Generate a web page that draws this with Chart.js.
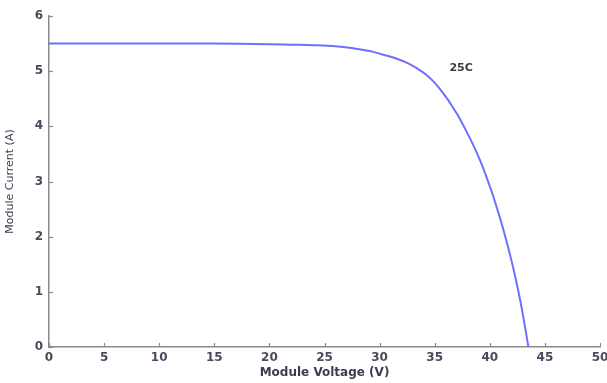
<!DOCTYPE html>
<html>
<head>
<meta charset="utf-8">
<script src="https://cdn.jsdelivr.net/npm/chart.js@4/dist/chart.umd.min.js"></script>
<style>
html,body{margin:0;padding:0;background:#fff;}
#wrap{width:607px;height:383px;position:relative;}
</style>
</head>
<body>
<div id="wrap"><canvas id="c" width="607" height="383"></canvas></div>
<script>
// Data
const voltage = [0, 5, 10, 15, 20, 22, 24, 26, 28, 29.4, 30.5, 31.5, 32.5, 33.4, 34.2, 34.9, 35.5, 36.1, 36.6, 37.1, 37.9, 38.5, 39.1, 39.7, 40.2, 40.6, 41.1, 41.5, 41.9, 42.3, 42.6, 42.9, 43.2, 43.5];
const current = [5.50, 5.50, 5.50, 5.50, 5.49, 5.48, 5.47, 5.45, 5.40, 5.35, 5.29, 5.23, 5.15, 5.05, 4.94, 4.81, 4.67, 4.51, 4.36, 4.20, 3.90, 3.66, 3.39, 3.08, 2.80, 2.55, 2.22, 1.93, 1.62, 1.28, 1.00, 0.70, 0.36, 0];
const xTicks = [0, 5, 10, 15, 20, 25, 30, 35, 40, 45, 50];
const yTicks = [0, 1, 2, 3, 4, 5, 6];
const seriesLabel = "25C";
const labelAt = {v: 37.4, i: 5.06};

const points = voltage.map((v, k) => ({x: v, y: current[k]}));
const txtColor = '#4a4a5c';
const axisColor = '#8a8a8a';

const innerTicks = {
  id: 'innerTicks',
  afterDraw(chart) {
    const ctx = chart.ctx;
    const xs = chart.scales.x, ys = chart.scales.y;
    ctx.save();
    ctx.strokeStyle = axisColor;
    ctx.lineWidth = 1.2;
    xTicks.forEach(v => {
      const px = Math.round(xs.getPixelForValue(v)) + 0.5;
      ctx.beginPath(); ctx.moveTo(px, ys.bottom); ctx.lineTo(px, ys.bottom - 4); ctx.stroke();
    });
    yTicks.forEach(v => {
      const py = Math.round(ys.getPixelForValue(v)) + 0.5;
      ctx.beginPath(); ctx.moveTo(xs.left, py); ctx.lineTo(xs.left + 4, py); ctx.stroke();
    });
    ctx.fillStyle = '#3c3c3c';
    ctx.font = 'bold 11px "DejaVu Sans"';
    ctx.textAlign = 'center';
    ctx.textBaseline = 'middle';
    ctx.fillText(seriesLabel, xs.getPixelForValue(labelAt.v), ys.getPixelForValue(labelAt.i));
    ctx.restore();
  }
};

new Chart(document.getElementById('c'), {
  type: 'scatter',
  data: {
    datasets: [{
      label: seriesLabel,
      data: points,
      showLine: true,
      borderColor: '#6e6eff',
      borderWidth: 2,
      pointRadius: 0,
      tension: 0.3,
      cubicInterpolationMode: 'monotone',
      fill: false
    }]
  },
  options: {
    responsive: false,
    animation: false,
    events: [],
    layout: {padding: {top: 16, right: 7, left: 0, bottom: 0}},
    plugins: {legend: {display: false}, tooltip: {enabled: false}},
    scales: {
      x: {
        type: 'linear', min: 0, max: 50,
        afterBuildTicks: s => { s.ticks = xTicks.map(v => ({value: v})); },
        afterFit: s => { s.height = 36; s.paddingLeft = 0; s.paddingRight = 0; },
        grid: {drawOnChartArea: false, drawTicks: false},
        border: {display: true, color: axisColor, width: 1.5},
        ticks: {padding: 4, color: txtColor, font: {family: '"DejaVu Sans"', size: 12, weight: 'bold'}},
        title: {display: true, text: 'Module Voltage (V)', color: '#3c3c50', padding: {top: 0, bottom: 3},
                font: {family: '"DejaVu Sans"', size: 12, weight: 'bold'}}
      },
      y: {
        type: 'linear', min: 0, max: 6,
        afterBuildTicks: s => { s.ticks = yTicks.map(v => ({value: v})); },
        afterFit: s => { s.width = 49; s.paddingTop = 0; s.paddingBottom = 0; },
        grid: {drawOnChartArea: false, drawTicks: false},
        border: {display: true, color: axisColor, width: 1.5},
        ticks: {padding: 6, color: txtColor, font: {family: '"DejaVu Sans"', size: 12, weight: 'bold'}},
        title: {display: true, text: 'Module Current (A)', color: '#3c3c50', padding: {top: 4, bottom: 0},
                font: {family: '"DejaVu Sans"', size: 11}}
      }
    }
  },
  plugins: [innerTicks]
});
</script>
</body>
</html>
